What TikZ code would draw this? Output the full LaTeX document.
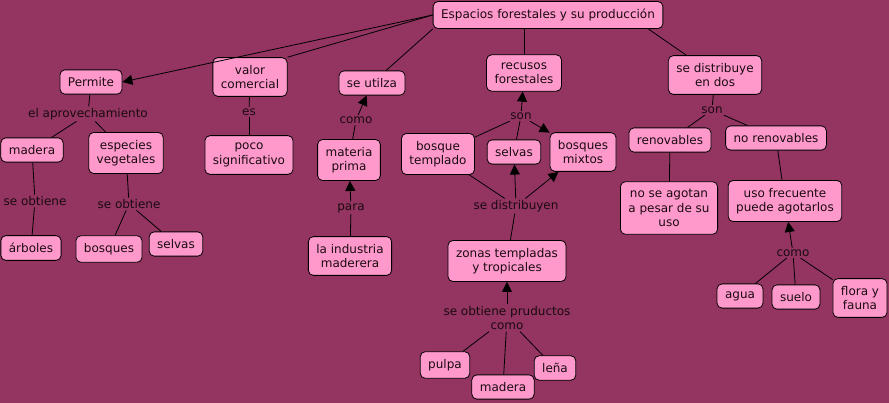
\documentclass[tikz,border=0pt]{standalone}
\usepackage{fontspec}
\setmainfont{DejaVu Sans}
\usetikzlibrary{arrows.meta}
\definecolor{bg}{HTML}{933461}
\definecolor{nodepink}{HTML}{FF99CC}
\definecolor{ink}{HTML}{1A0A10}
\begin{document}
\begin{tikzpicture}[x=1pt,y=-1pt,
 concept/.style={draw=black, fill=nodepink, rounded corners=5pt, align=center, inner xsep=8pt, inner ysep=7.5pt, font=\fontsize{12}{14.5}\selectfont, text=ink, line width=0.8pt},
 link/.style={inner sep=1.5pt, align=center, font=\fontsize{12}{14.5}\selectfont, text=ink},
 conn/.style={draw=black, line width=0.8pt},
 arr/.style={conn, -{Triangle[length=10pt,width=10pt]}}]
\fill[bg] (0,0) rectangle (889,403);
\useasboundingbox (0,0) rectangle (889,403);

% concepts
\node[concept] (esp) at (548,15) {Espacios forestales y su producción};
\node[concept] (perm) at (91,82) {Permite};
\node[concept] (valor) at (250,77) {valor\\comercial};
\node[concept] (util) at (372,83) {se utilza};
\node[concept] (recu) at (524,73) {recusos\\forestales};
\node[concept] (dist) at (715,75) {se distribuye\\en dos};
\node[concept] (mad1) at (32,150) {madera};
\node[concept] (espv) at (126,153) {especies\\vegetales};
\node[concept] (poco) at (249,155) {poco\\significativo};
\node[concept] (mat) at (349,160) {materia\\prima};
\node[concept] (btem) at (438,154) {bosque\\templado};
\node[concept] (selv2) at (514,152) {selvas};
\node[concept] (bmix) at (583,152) {bosques\\mixtos};
\node[concept] (renov) at (670,140) {renovables};
\node[concept] (norenov) at (776,138) {no renovables};
\node[concept] (arb) at (31,248) {árboles};
\node[concept] (bosq) at (109,249) {bosques};
\node[concept] (selv1) at (176,244) {selvas};
\node[concept] (ind) at (350,256) {la industria\\maderera};
\node[concept] (agot) at (669,208) {no se agotan\\a pesar de su\\uso};
\node[concept] (frec) at (785,201) {uso frecuente\\puede agotarlos};
\node[concept] (zon) at (507,261) {zonas templadas\\y tropicales};
\node[concept] (agua) at (740,296) {agua};
\node[concept] (suelo) at (796,297) {suelo};
\node[concept] (flora) at (860,298) {flora y\\fauna};
\node[concept] (pulpa) at (445,365) {pulpa};
\node[concept] (mad2) at (503,387) {madera};
\node[concept] (lena) at (555,368) {leña};

% linking phrases
\node[link] (lapr) at (88,114) {el aprovechamiento};
\node[link] (les) at (249,112) {es};
\node[link] (lcomo1) at (356,120) {como};
\node[link] (lobt1) at (35,201) {se obtiene};
\node[link] (lobt2) at (129,204) {se obtiene};
\node[link] (lpara) at (351,208) {para};
\node[link] (lson1) at (521,116) {son};
\node[link] (lson2) at (712,110) {son};
\node[link] (ldistr) at (516,206) {se distribuyen};
\node[link] (lcomo2) at (793,253) {como};
\node[link] (lprod) at (507,318) {se obtiene pruductos\\como};

% connectors
\draw[arr] (esp.west) -- (perm.east);
\draw[conn] (esp.west) -- (valor.north east);
\draw[conn] (esp.south west) -- (util);
\draw[conn] (esp.south -| recu.north) -- (recu.north);
\draw[conn] ([xshift=-15pt]esp.south east) -- (dist);

\draw[conn] (perm) -- (lapr);
\draw[conn] (lapr) -- (mad1);
\draw[conn] (lapr) -- (espv);

\draw[conn] (valor) -- (les);
\draw[conn] (les) -- (poco);

\draw[conn] (mat) -- (lcomo1);
\draw[arr] (lcomo1) -- (util);
\draw[conn] (ind) -- (lpara);
\draw[arr] (lpara) -- (mat);

\draw[conn] (mad1) -- (lobt1);
\draw[conn] (lobt1) -- (arb);
\draw[conn] (espv) -- (lobt2);
\draw[conn] (lobt2) -- (bosq);
\draw[conn] (lobt2) -- (selv1);

\draw[conn] (btem) -- (lson1);
\draw[conn] (selv2) -- (lson1);
\draw[arr] (lson1) -- (recu);
\draw[arr] (lson1) -- (bmix);

\draw[conn] (zon) -- (ldistr);
\draw[conn] (ldistr) -- (btem);
\draw[arr] (ldistr) -- (selv2);
\draw[arr] (ldistr) -- (bmix);

\draw[conn] (pulpa) -- (lprod);
\draw[conn] (mad2) -- (lprod);
\draw[conn] (lena) -- (lprod);
\draw[arr] (lprod) -- (zon);

\draw[conn] (dist) -- (lson2);
\draw[conn] (lson2) -- (renov);
\draw[conn] (lson2) -- (norenov);
\draw[conn] (renov) -- (agot);
\draw[conn] (norenov) -- (frec);

\draw[conn] (agua) -- (lcomo2);
\draw[conn] (suelo) -- (lcomo2);
\draw[conn] (flora) -- (lcomo2);
\draw[arr] (lcomo2) -- (frec);
\end{tikzpicture}
\end{document}
